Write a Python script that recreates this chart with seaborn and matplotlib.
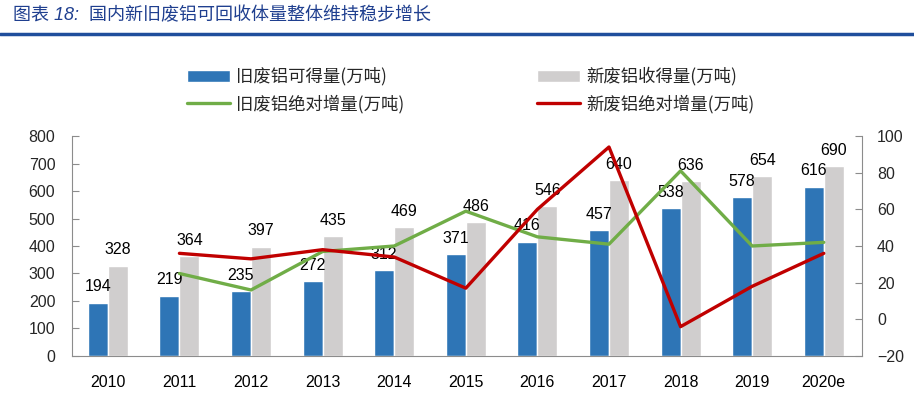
import matplotlib
matplotlib.use("Agg")
import matplotlib.pyplot as plt
import numpy as np
import pandas as pd
import seaborn as sns
from matplotlib.lines import Line2D
from matplotlib.patches import Patch

years = ["2010", "2011", "2012", "2013", "2014", "2015", "2016", "2017", "2018", "2019", "2020e"]
old_available = [194, 219, 235, 272, 312, 371, 416, 457, 538, 578, 616]
new_collected = [328, 364, 397, 435, 469, 486, 546, 640, 636, 654, 690]
# increments start from 2011
old_increment = [25, 16, 37, 40, 59, 45, 41, 81, 40, 42]
new_increment = [36, 33, 38, 34, 17, 60, 94, -4, 18, 36]

name_old = "旧废铝可得量(万吨)"
name_new = "新废铝收得量(万吨)"
name_old_inc = "旧废铝绝对增量(万吨)"
name_new_inc = "新废铝绝对增量(万吨)"
title = "图表 18:  国内新旧废铝可回收体量整体维持稳步增长"

BLUE = "#2E75B6"
GRAY = "#D0CECE"
GREEN = "#70AD47"
RED = "#C00000"
SPINE = "#8C8C8C"

sns.set_theme(style="white")
plt.rcParams["font.family"] = ["Liberation Sans", "Noto Sans CJK SC", "DejaVu Sans"]

bars = pd.DataFrame({
    "year": years * 2,
    "value": old_available + new_collected,
    "series": [name_old] * len(years) + [name_new] * len(years),
})

fig = plt.figure(figsize=(9.14, 3.97), dpi=100)
ax = fig.add_axes([0.0788, 0.1033, 0.864, 0.5541])

sns.barplot(data=bars, x="year", y="value", hue="series", hue_order=[name_old, name_new],
            palette=[BLUE, GRAY], width=0.56, saturation=1, legend=False, ax=ax)
for cont in ax.containers:
    ax.bar_label(cont, padding=6, fontsize=11.5, color="black")

ax.set_xlim(-0.5, 10.53)
ax.set_ylim(0, 800)
ax.set_yticks(range(0, 801, 100))
ax.set_xlabel("")
ax.set_ylabel("")
ax.set_xticks(np.arange(-0.5, len(years), 1.0), minor=True)
ax.tick_params(axis="x", which="major", length=0, pad=14, labelsize=11.5, colors="black")
ax.tick_params(axis="x", which="minor", direction="in", length=4, color=SPINE, width=0.8)
ax.tick_params(axis="y", direction="in", length=5, color=SPINE, width=0.8, pad=12,
               labelsize=11.5, left=True)
for side in ["top", "right"]:
    ax.spines[side].set_visible(False)
for side in ["left", "bottom"]:
    ax.spines[side].set_color(SPINE)
    ax.spines[side].set_linewidth(0.8)

ax2 = ax.twinx()
xpos = np.arange(1, len(years))
sns.lineplot(x=xpos, y=old_increment, color=GREEN, linewidth=2.4, ax=ax2)
sns.lineplot(x=xpos, y=new_increment, color=RED, linewidth=2.4, ax=ax2)
ax2.set_ylim(-20, 100)
ax2.set_yticks(range(-20, 101, 20))
ax2.set_xlim(-0.5, 10.53)
ax2.tick_params(axis="y", direction="in", length=5, color=SPINE, width=0.8, pad=11,
                labelsize=11.5, right=True)
for side in ["top", "left", "bottom"]:
    ax2.spines[side].set_visible(False)
ax2.spines["right"].set_color(SPINE)
ax2.spines["right"].set_linewidth(0.8)

handles = [
    Patch(facecolor=BLUE, label=name_old),
    Line2D([0], [0], color=GREEN, linewidth=2.4, label=name_old_inc),
    Patch(facecolor=GRAY, label=name_new),
    Line2D([0], [0], color=RED, linewidth=2.4, label=name_new_inc),
]
fig.legend(handles=handles, ncol=2, loc="center", bbox_to_anchor=(0.515, 0.773),
           frameon=False, handlelength=2.5, handletextpad=0.35,
           columnspacing=7.6, labelspacing=0.5,
           prop={"family": ["Noto Sans CJK SC", "DejaVu Sans"], "size": 12.5})

fig.text(0.014, 0.962, title, fontsize=13, color="#1F3F8F", style="italic",
         va="center", ha="left")
fig.add_artist(Line2D([0, 1], [0.914, 0.914], transform=fig.transFigure,
                      color="#1F4E9C", linewidth=2.5))

fig.savefig("out.png", dpi=100)
